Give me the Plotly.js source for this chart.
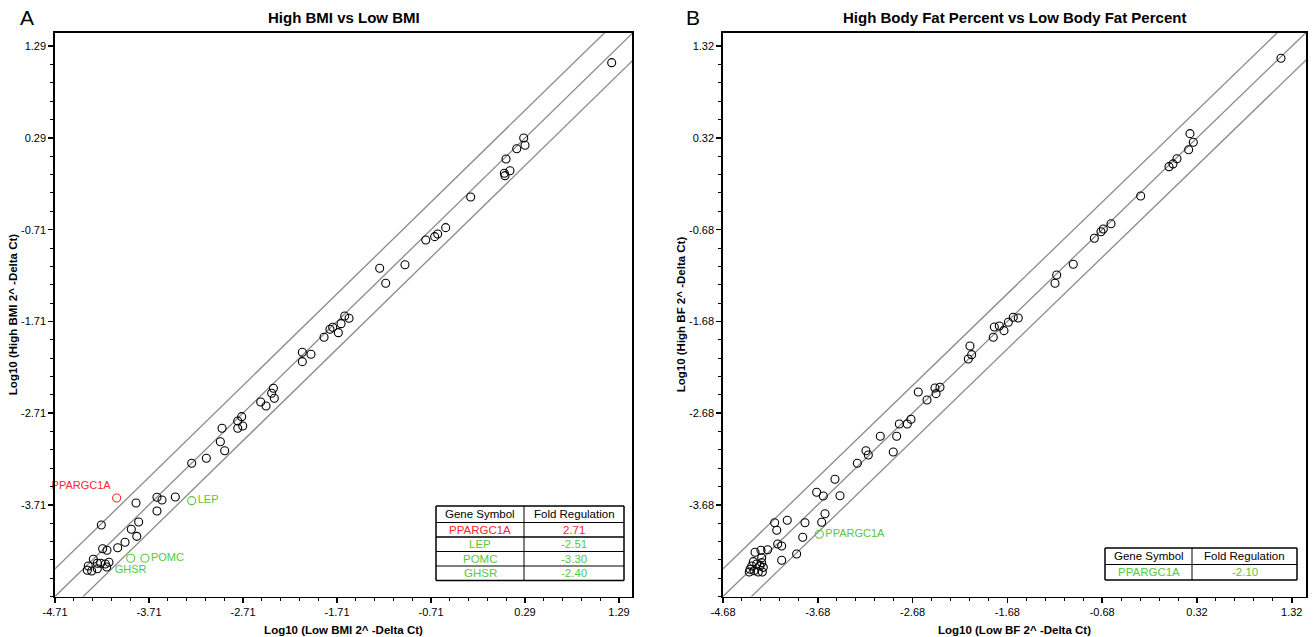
<!DOCTYPE html>
<html>
<head>
<meta charset="utf-8">
<script src="https://cdn.plot.ly/plotly-3.0.1.min.js"></script>
<style>html,body{margin:0;padding:0;background:#fff;}#chart{width:1315px;height:637px;}</style>
</head>
<body>
<div id="chart"></div>
<script>
// ---------------- DATA ----------------
// Panel A: High BMI vs Low BMI (black points)
const aLowBMI  = [1.212,0.276,0.29,0.202,0.088,0.13,0.07,0.077,-0.288,-0.554,-0.639,-0.671,-0.766,-0.987,-1.256,-1.192,-1.628,-1.582,-1.667,-1.756,-1.785,-1.696,-1.848,
  -2.079,-1.987,-2.079,-2.387,-2.405,-2.377,-2.522,-2.465,-2.724,-2.766,-2.713,-2.766,-2.933,-2.951,-2.905,-3.1,-3.256,
  -3.625,-3.572,-3.43,-3.848,-3.625,-4.217,-3.82,-3.898,-3.84,-3.965,-4.043,-4.203,-4.157,-4.302,-4.136,-4.175,-4.224,-4.26,-4.16,-4.26,-4.356,-4.366,-4.32];
const aHighBMI = [1.111,0.29,0.21,0.173,0.061,-0.067,-0.095,-0.121,-0.353,-0.688,-0.757,-0.786,-0.822,-1.092,-1.131,-1.294,-1.651,-1.676,-1.735,-1.774,-1.796,-1.833,-1.883,
  -2.047,-2.069,-2.149,-2.44,-2.494,-2.549,-2.589,-2.633,-2.749,-2.796,-2.851,-2.876,-2.876,-3.022,-3.12,-3.203,-3.257,
  -3.628,-3.658,-3.625,-3.69,-3.778,-3.93,-3.898,-3.977,-4.054,-4.119,-4.178,-4.189,-4.206,-4.304,-4.337,-4.356,-4.348,-4.347,-4.388,-4.407,-4.377,-4.424,-4.432];
// Panel A: highlighted genes
const aGenes      = ['PPARGC1A','LEP','POMC','GHSR'];
const aGeneLow    = [-4.054,-3.256,-3.753,-3.905];
const aGeneHigh   = [-3.636,-3.665,-4.293,-4.293];
const aGeneColors = ['#f52a2a','#55c83c','#55c83c','#55c83c'];
const aGeneTextPos= ['top left','middle right','middle right','bottom center'];
const aTableGenes = ['PPARGC1A','LEP','POMC','GHSR'];
const aTableFold  = ['2.71','-2.51','-3.30','-2.40'];
const aXTickVals = [-4.71,-3.71,-2.71,-1.71,-0.71,0.29,1.29];
const aXTickText = ['-4.71','-3.71','-2.71','-1.71','-0.71','0.29','1.29'];
const aYTickVals = [-3.71,-2.71,-1.71,-0.71,0.29,1.29];
const aYTickText = ['-3.71','-2.71','-1.71','-0.71','0.29','1.29'];

// Panel B: High BF vs Low BF (black points)
const bLowBF  = [1.206,0.246,0.281,0.232,0.109,0.067,0.025,-0.274,-0.587,-0.668,-0.693,-0.763,-0.985,-1.16,-1.178,
  -1.565,-1.618,-1.67,-1.716,-1.765,-1.818,-1.829,-2.075,-2.057,-2.092,-2.391,-2.444,-2.433,-2.62,-2.528,-2.697,-2.736,-2.82,-3.021,-2.848,-3.172,-3.147,-2.884,-3.263,-3.499,
  -3.692,-3.622,-3.446,-3.604,-3.639,-3.815,-4.002,-4.135,-4.113,-3.839,-4.103,-4.061,-4.209,-4.279,-4.342,-4.272,-4.061,-3.903,
  -4.36,-4.324,-4.29,-4.255,-4.395,-4.353,-4.308,-4.265,-4.377,-4.403,-4.272];
const bHighBF = [1.189,0.367,0.273,0.192,0.094,0.037,0.007,-0.313,-0.615,-0.672,-0.702,-0.774,-1.057,-1.174,-1.265,
  -1.643,-1.635,-1.69,-1.781,-1.73,-1.741,-1.853,-1.948,-2.043,-2.09,-2.399,-2.406,-2.468,-2.45,-2.537,-2.748,-2.799,-2.799,-2.933,-2.933,-3.09,-3.137,-3.104,-3.227,-3.402,
  -3.544,-3.584,-3.581,-3.777,-3.871,-3.875,-3.849,-3.875,-3.958,-4.034,-4.107,-4.129,-4.17,-4.176,-4.198,-4.257,-4.285,-4.217,
  -4.30,-4.326,-4.347,-4.362,-4.383,-4.399,-4.413,-4.413,-4.347,-4.413,-4.311];
const bGenes      = ['PPARGC1A'];
const bGeneLow    = [-3.664];
const bGeneHigh   = [-4.002];
const bGeneColors = ['#55c83c'];
const bGeneTextPos= ['middle right'];
const bTableGenes = ['PPARGC1A'];
const bTableFold  = ['-2.10'];
const bXTickVals = [-4.68,-3.68,-2.68,-1.68,-0.68,0.32,1.32];
const bXTickText = ['-4.68','-3.68','-2.68','-1.68','-0.68','0.32','1.32'];
const bYTickVals = [-3.68,-2.68,-1.68,-0.68,0.32,1.32];
const bYTickText = ['-3.68','-2.68','-1.68','-0.68','0.32','1.32'];

const foldThreshold = 2;

// ---------------- LAYOUT HELPERS ----------------
const W = 1315, H = 637;
const FONT = 'Liberation Sans, Arial, sans-serif';
const px = v => v / W;
const py = v => 1 - v / H;

const aRange = {x: [-4.71, 1.428], y: [-4.71, 1.44]};
const bRange = {x: [-4.68, 1.47], y: [-4.68, 1.47]};

function refLines(xa, ya, rng) {
  const off = Math.log10(foldThreshold);
  const lo = Math.min(rng.x[0], rng.y[0]) - 1, hi = Math.max(rng.x[1], rng.y[1]) + 1;
  return [off, 0, -off].map(o => ({
    type: 'scatter', mode: 'lines', x: [lo, hi], y: [lo + o, hi + o],
    xaxis: xa, yaxis: ya, hoverinfo: 'skip', showlegend: false,
    line: {color: '#8a8a8a', width: 1.3}
  }));
}
function blackPts(xa, ya, xs, ys) {
  return {type: 'scatter', mode: 'markers', x: xs, y: ys, xaxis: xa, yaxis: ya, showlegend: false,
    marker: {symbol: 'circle-open', size: 8, color: '#000', line: {width: 1.1, color: '#000'}}};
}
function genePts(xa, ya, xs, ys, names, colors, pos) {
  return {type: 'scatter', mode: 'markers+text', x: xs, y: ys, xaxis: xa, yaxis: ya, showlegend: false,
    text: names, textposition: pos, cliponaxis: false,
    textfont: {family: FONT, size: 11, color: colors},
    marker: {symbol: 'circle-open', size: 8, color: colors, line: {width: 1.1, color: colors}}};
}

const traces = [
  ...refLines('x', 'y', aRange),
  blackPts('x', 'y', aLowBMI, aHighBMI),
  genePts('x', 'y', aGeneLow, aGeneHigh, aGenes, aGeneColors, aGeneTextPos),
  ...refLines('x2', 'y2', bRange),
  blackPts('x2', 'y2', bLowBF, bHighBF),
  genePts('x2', 'y2', bGeneLow, bGeneHigh, bGenes, bGeneColors, bGeneTextPos)
];

function axis(domain, range, tickvals, ticktext, title, anchor, standoff) {
  return {
    domain: domain, range: range, anchor: anchor,
    tickmode: 'array', tickvals: tickvals, ticktext: ticktext,
    ticks: 'outside', ticklen: 5, tickwidth: 1.6, tickcolor: '#000',
    minor: {tickmode: 'linear', tick0: range[0], dtick: 0.2, ticks: 'outside', ticklen: 3, tickwidth: 1, tickcolor: '#000', showgrid: false},
    showline: true, linecolor: '#000', linewidth: 1.7, mirror: true,
    showgrid: false, zeroline: false,
    tickfont: {family: FONT, size: 11, color: '#000'},
    title: {text: title, font: {family: FONT, size: 11.5, color: '#000', weight: 'bold'}, standoff: standoff}
  };
}

const yDom = [py(596.5), py(32.5)];
const annotations = [];
const shapes = [];

function addTitle(text, xc) {
  annotations.push({xref: 'paper', yref: 'paper', x: px(xc), y: py(18), xanchor: 'center', yanchor: 'middle',
    text: text, showarrow: false, font: {family: FONT, size: 15, color: '#000', weight: 'bold'}});
}
function addLetter(text, x0) {
  annotations.push({xref: 'paper', yref: 'paper', x: px(x0), y: py(18), xanchor: 'left', yanchor: 'middle',
    text: text, showarrow: false, font: {family: FONT, size: 21, color: '#000'}});
}
function addTable(left, right, split, top, headH, rowH, genes, folds, colors) {
  const bottom = top + headH + rowH * genes.length;
  const line = (x0, y0, x1, y1, w) => shapes.push({type: 'line', xref: 'paper', yref: 'paper',
    x0: px(x0), y0: py(y0), x1: px(x1), y1: py(y1), line: {color: '#000', width: w}});
  line(left, top, right, top, 1.5); line(left, bottom, right, bottom, 1.5);
  line(left, top, left, bottom, 1.5); line(right, top, right, bottom, 1.5);
  line(split, top, split, bottom, 1);
  line(left, top + headH, right, top + headH, 1);
  for (let i = 1; i < genes.length; i++) {
    const yy = top + headH + rowH * i;
    line(left, yy, right, yy, i === 1 ? 1.5 : 1);
  }
  const cell = (txt, xc, yc, col) => annotations.push({xref: 'paper', yref: 'paper', x: px(xc), y: py(yc),
    xanchor: 'center', yanchor: 'middle', text: txt, showarrow: false, font: {family: FONT, size: 11.5, color: col}});
  cell('Gene Symbol', (left + split) / 2, top + headH / 2, '#000');
  cell('Fold Regulation', (split + right) / 2, top + headH / 2, '#000');
  genes.forEach((g, i) => {
    const yc = top + headH + rowH * i + rowH / 2;
    cell(g, (left + split) / 2, yc, colors[i]);
    cell(folds[i], (split + right) / 2, yc, colors[i]);
  });
}

addLetter('A', 18); addLetter('B', 684);
addTitle('High BMI vs Low BMI', (55 + 632) / 2);
addTitle('High Body Fat Percent vs Low Body Fat Percent', (723 + 1306) / 2);
addTable(436, 624, 524, 506, 16.5, 14.5, aTableGenes, aTableFold, aGeneColors);
addTable(1105, 1297, 1192, 548, 16.5, 15.5, bTableGenes, bTableFold, bGeneColors);

const layout = {
  width: W, height: H, margin: {l: 0, r: 0, t: 0, b: 0},
  paper_bgcolor: '#fff', plot_bgcolor: '#fff', showlegend: false,
  font: {family: FONT, color: '#000'},
  xaxis:  axis([px(55), px(632)],  aRange.x, aXTickVals, aXTickText, 'Log10 (Low BMI 2^ -Delta Ct)', 'y', 8),
  yaxis:  axis(yDom,               aRange.y, aYTickVals, aYTickText, 'Log10 (High BMI 2^ -Delta Ct)', 'x', 1),
  xaxis2: axis([px(723), px(1306)], bRange.x, bXTickVals, bXTickText, 'Log10 (Low BF 2^ -Delta Ct)', 'y2', 8),
  yaxis2: axis(yDom,                bRange.y, bYTickVals, bYTickText, 'Log10 (High BF 2^ -Delta Ct)', 'x2', 1),
  annotations: annotations, shapes: shapes
};

Plotly.newPlot('chart', traces, layout, {staticPlot: true, displayModeBar: false});
</script>
</body>
</html>
